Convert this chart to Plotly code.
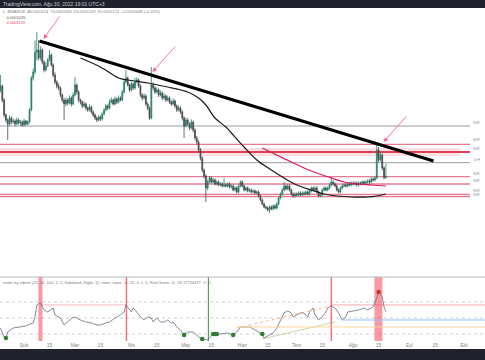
import pandas as pd
import plotly.graph_objects as go

START = pd.Timestamp("2022-01-19")
SCALE = 1e-7  # prices below are in units of 1e-7

open_e7 = [
    1552, 1572, 1502, 1427, 1402, 1382, 1412, 1392, 1397, 1382,
    1402, 1387, 1392, 1377, 1397, 1382, 1392, 1452, 1612, 1642,
    1742, 1752, 1712, 1752, 1692, 1652, 1672, 1702, 1727, 1677,
    1627, 1592, 1572, 1562, 1527, 1502, 1482, 1502, 1487, 1512,
    1482, 1527, 1577, 1542, 1502, 1492, 1472, 1482, 1462, 1452,
    1467, 1442, 1427, 1412, 1402, 1417, 1407, 1432, 1452, 1472,
    1462, 1492, 1502, 1482, 1507, 1492, 1512, 1502, 1542, 1592,
    1612, 1577, 1552, 1582, 1562, 1592, 1602, 1572, 1527, 1512,
    1522, 1482, 1462, 1412, 1577, 1562, 1542, 1552, 1527, 1537,
    1512, 1522, 1502, 1512, 1492, 1482, 1497, 1472, 1452, 1462,
    1442, 1412, 1372, 1402, 1382, 1362, 1392, 1352, 1312, 1292,
    1252, 1212, 1152, 1122, 1062, 1092, 1112, 1092, 1102, 1082,
    1092, 1077, 1082, 1072, 1077, 1072, 1082, 1067, 1072, 1052,
    1062, 1042, 1072, 1092, 1072, 1052, 1062, 1047, 1052, 1042,
    1047, 1037, 1042, 1022, 1002, 982, 967, 962, 952, 967,
    957, 972, 962, 982, 1012, 1032, 1052, 1072, 1057, 1072,
    1052, 1032, 1022, 1032, 1027, 1037, 1027, 1037, 1032, 1042,
    1032, 1047, 1062, 1052, 1062, 1042, 1022, 1027, 1052, 1062,
    1052, 1062, 1077, 1092, 1082, 1072, 1052, 1042, 1062, 1072,
    1077, 1072, 1082, 1077, 1087, 1082, 1087, 1077, 1087, 1082,
    1092, 1087, 1092, 1097, 1092, 1107, 1102, 1112, 1252, 1202,
    1227, 1162, 1114,
]
high_e7 = [
    1627, 1580, 1510, 1435, 1410, 1425, 1420, 1410, 1405, 1415,
    1410, 1402, 1400, 1407, 1402, 1400, 1462, 1622, 1660, 1800,
    1842, 1802, 1770, 1760, 1700, 1690, 1712, 1752, 1735, 1685,
    1640, 1600, 1585, 1570, 1535, 1510, 1515, 1510, 1525, 1520,
    1540, 1617, 1585, 1550, 1510, 1500, 1495, 1490, 1470, 1480,
    1475, 1450, 1435, 1420, 1427, 1425, 1440, 1462, 1482, 1480,
    1505, 1515, 1510, 1520, 1515, 1525, 1520, 1552, 1605, 1652,
    1620, 1585, 1595, 1590, 1612, 1615, 1610, 1580, 1535, 1535,
    1530, 1490, 1470, 1667, 1590, 1570, 1565, 1560, 1550, 1545,
    1535, 1530, 1525, 1520, 1500, 1510, 1505, 1480, 1475, 1470,
    1450, 1420, 1415, 1410, 1390, 1405, 1400, 1360, 1322, 1300,
    1262, 1220, 1160, 1130, 1105, 1122, 1120, 1112, 1110, 1100,
    1100, 1090, 1090, 1112, 1085, 1090, 1090, 1080, 1080, 1070,
    1070, 1080, 1100, 1100, 1080, 1070, 1070, 1060, 1060, 1055,
    1055, 1050, 1050, 1030, 1010, 990, 975, 970, 975, 975,
    980, 980, 990, 1020, 1040, 1062, 1092, 1080, 1080, 1080,
    1060, 1040, 1040, 1040, 1045, 1045, 1045, 1045, 1050, 1050,
    1055, 1070, 1070, 1070, 1070, 1050, 1035, 1060, 1070, 1070,
    1070, 1085, 1117, 1100, 1090, 1080, 1060, 1070, 1080, 1085,
    1085, 1090, 1090, 1095, 1095, 1095, 1095, 1095, 1095, 1100,
    1100, 1100, 1105, 1105, 1115, 1115, 1120, 1277, 1267, 1240,
    1235, 1170, 1184,
]
low_e7 = [
    1540, 1490, 1415, 1390, 1302, 1372, 1380, 1385, 1370, 1375,
    1380, 1372, 1367, 1370, 1374, 1375, 1385, 1445, 1600, 1630,
    1700, 1700, 1700, 1680, 1640, 1645, 1665, 1695, 1670, 1615,
    1582, 1560, 1550, 1515, 1490, 1402, 1470, 1475, 1480, 1470,
    1475, 1520, 1530, 1490, 1480, 1462, 1465, 1450, 1442, 1445,
    1435, 1417, 1402, 1392, 1395, 1397, 1400, 1425, 1445, 1452,
    1455, 1485, 1475, 1475, 1482, 1485, 1495, 1495, 1535, 1585,
    1570, 1542, 1545, 1552, 1555, 1585, 1562, 1517, 1500, 1505,
    1472, 1450, 1402, 1405, 1550, 1532, 1535, 1517, 1520, 1502,
    1505, 1492, 1495, 1482, 1472, 1475, 1462, 1442, 1445, 1432,
    1400, 1312, 1365, 1372, 1350, 1355, 1340, 1300, 1280, 1240,
    1200, 1140, 1110, 992, 1050, 1085, 1085, 1085, 1075, 1075,
    1070, 1070, 1065, 1065, 1065, 1065, 1060, 1060, 1045, 1045,
    1035, 1035, 1065, 1065, 1045, 1045, 1040, 1040, 1035, 1035,
    1030, 1030, 1015, 995, 975, 960, 955, 945, 937, 950,
    950, 955, 955, 975, 1005, 1025, 1045, 1050, 1050, 1045,
    1025, 1015, 1015, 1020, 1020, 1020, 1020, 1025, 1025, 1025,
    1025, 1040, 1045, 1045, 1035, 1015, 1015, 1020, 1045, 1045,
    1045, 1055, 1070, 1075, 1065, 1045, 1035, 1035, 1055, 1065,
    1065, 1065, 1070, 1070, 1075, 1075, 1070, 1070, 1075, 1075,
    1080, 1080, 1085, 1085, 1085, 1095, 1095, 1105, 1190, 1195,
    1150, 1105, 1109,
]
close_e7 = [
    1572, 1502, 1427, 1402, 1382, 1412, 1392, 1397, 1382, 1402,
    1387, 1392, 1377, 1397, 1382, 1392, 1452, 1612, 1642, 1742,
    1752, 1712, 1752, 1692, 1652, 1672, 1702, 1727, 1677, 1627,
    1592, 1572, 1562, 1527, 1502, 1482, 1502, 1487, 1512, 1482,
    1527, 1577, 1542, 1502, 1492, 1472, 1482, 1462, 1452, 1467,
    1442, 1427, 1412, 1402, 1417, 1407, 1432, 1452, 1472, 1462,
    1492, 1502, 1482, 1507, 1492, 1512, 1502, 1542, 1592, 1612,
    1577, 1552, 1582, 1562, 1592, 1602, 1572, 1527, 1512, 1522,
    1482, 1462, 1412, 1577, 1562, 1542, 1552, 1527, 1537, 1512,
    1522, 1502, 1512, 1492, 1482, 1497, 1472, 1452, 1462, 1442,
    1412, 1372, 1402, 1382, 1362, 1392, 1352, 1312, 1292, 1252,
    1212, 1152, 1122, 1062, 1092, 1112, 1092, 1102, 1082, 1092,
    1077, 1082, 1072, 1077, 1072, 1082, 1067, 1072, 1052, 1062,
    1042, 1072, 1092, 1072, 1052, 1062, 1047, 1052, 1042, 1047,
    1037, 1042, 1022, 1002, 982, 967, 962, 952, 967, 957,
    972, 962, 982, 1012, 1032, 1052, 1072, 1057, 1072, 1052,
    1032, 1022, 1032, 1027, 1037, 1027, 1037, 1032, 1042, 1032,
    1047, 1062, 1052, 1062, 1042, 1022, 1027, 1052, 1062, 1052,
    1062, 1077, 1092, 1082, 1072, 1052, 1042, 1062, 1072, 1077,
    1072, 1082, 1077, 1087, 1082, 1087, 1077, 1087, 1082, 1092,
    1087, 1092, 1097, 1092, 1107, 1102, 1112, 1252, 1202, 1227,
    1162, 1114, 1122,
]

# moving averages (day offset from START, price e7)
black_ma_day = [44, 55, 65, 70, 81, 92, 103, 109, 113, 118, 124, 127, 134, 141, 149, 156, 163, 171, 178, 185, 193, 202, 207, 212]
black_ma_e7 = [1712, 1667, 1612, 1602, 1587, 1567, 1542, 1512, 1477, 1412, 1367, 1337, 1267, 1202, 1152, 1112, 1077, 1052, 1032, 1022, 1017, 1017, 1022, 1032]
red_ma_day = [144, 152, 160, 167, 174, 182, 189, 196, 204, 212]
red_ma_e7 = [1262, 1227, 1192, 1162, 1137, 1112, 1092, 1082, 1077, 1072]

trend_day = [21.45, 238.2]
trend_e7 = [1797, 1197]

# horizontal support/resistance levels (e7)
gray_levels_e7 = [1372, 1188.5]
pink_levels_e7 = [1280.5, 1118.5, 1082, 1030.5, 1018.5]
key_level_e7 = 1242
key_band_e7 = [1222, 1262]
low_band_e7 = [1018.5, 1030.5]

# arrows (tip day, tip price e7)
arrow_day = [23.7, 83.6, 210.7]
arrow_e7 = [1807, 1642, 1292]

# oscillator
rsi_day = [0, 2, 3, 4, 7, 11, 14, 15, 18, 19,
           20, 22, 24, 26, 29, 30, 33, 35, 37, 38,
           40, 42, 44, 47, 50, 53, 55, 58, 60, 63,
           66, 68, 69, 72, 73, 75, 77, 79, 81, 83,
           84, 86, 88, 90, 92, 94, 95, 97, 99, 101,
           103, 106, 109, 111, 114, 117, 121, 125, 128, 130,
           132, 135, 137, 139, 142, 144, 145, 147, 150, 152,
           154, 156, 158, 160, 161, 163, 165, 167, 169, 170,
           172, 173, 175, 177, 179, 180, 182, 184, 186, 188,
           190, 191, 194, 197, 200, 202, 204, 205, 207, 208,
           210, 211, 212]
rsi_val = [37.5, 26.3, 25.0, 32.5, 37.5, 38.8, 40.0, 41.3, 43.8, 51.3,
           66.3, 68.8, 60.0, 57.5, 62.5, 53.8, 50.0, 41.3, 45.0, 47.5,
           51.3, 50.0, 47.5, 45.0, 43.8, 41.3, 41.3, 43.8, 45.0, 50.0,
           53.8, 57.5, 66.3, 57.5, 62.5, 57.5, 51.3, 47.5, 51.3, 50.0,
           45.0, 50.0, 45.0, 45.0, 47.5, 43.8, 45.0, 38.8, 35.0, 28.8,
           32.5, 32.5, 26.3, 23.8, 22.5, 30.0, 30.0, 31.3, 28.8, 32.5,
           38.8, 38.8, 38.8, 36.3, 32.5, 30.0, 25.0, 27.5, 31.3, 37.5,
           47.5, 56.3, 58.8, 56.3, 51.3, 53.8, 56.3, 56.3, 51.3, 57.5,
           62.5, 53.8, 47.5, 51.3, 57.5, 62.5, 65.0, 62.5, 56.3, 47.5,
           51.3, 57.5, 58.8, 60.0, 62.5, 60.0, 62.5, 63.8, 75.0, 82.5,
           76.3, 63.8, 58.2]
green_dot_day = [3, 101, 111, 117, 118, 119, 128, 144]
green_dot_val = [25.0, 28.8, 23.8, 30.0, 30.0, 30.0, 28.8, 30.0]
red_dot_day = [208]
red_dot_val = [82.5]
osc_levels = [70, 50, 30]
red_band_days = [(20.9, 23.1), (205.7, 210.1)]
red_vline_days = [69.3, 182.0]
green_vline_days = [114.4]

tick_dates = ["2022-02-01", "2022-02-15", "2022-03-01", "2022-03-15", "2022-04-01", "2022-04-15",
              "2022-05-01", "2022-05-15", "2022-06-01", "2022-06-15", "2022-07-01", "2022-07-15",
              "2022-08-01", "2022-08-15", "2022-09-01", "2022-09-15", "2022-10-01"]
tick_text = ["Şub", "15", "Mar", "15", "Nis", "15", "May", "15", "Haz", "15", "Tem", "15",
             "Ağu", "15", "Eyl", "15", "Eki"]

# ---------------------------------------------------------------
W, H = 485, 360


def day(d):
    return START + pd.to_timedelta(d, unit="D")


def days(lst):
    return [day(d) for d in lst]


def e7(lst):
    return [v * SCALE for v in lst]


def py(px):
    return 1 - px / H


def px_(px):
    return px / W


X_START = START - pd.Timedelta(hours=6)
X_END = X_START + pd.to_timedelta(W / 1.818, unit="D")

dates = pd.date_range(START, periods=len(close_e7), freq="D")
UP = "#25806a"
DOWN = "#48484c"

fig = go.Figure()
fig.add_trace(go.Candlestick(
    x=dates, open=e7(open_e7), high=e7(high_e7), low=e7(low_e7), close=e7(close_e7),
    increasing=dict(line=dict(color=UP, width=0.8), fillcolor=UP),
    decreasing=dict(line=dict(color=DOWN, width=0.8), fillcolor=DOWN),
    whiskerwidth=0, showlegend=False, hoverinfo="skip", xaxis="x", yaxis="y"))

fig.add_trace(go.Scatter(x=days(black_ma_day), y=e7(black_ma_e7), mode="lines",
                         line=dict(color="#1a1a1a", width=1.2, shape="spline"),
                         showlegend=False, hoverinfo="skip", yaxis="y"))
fig.add_trace(go.Scatter(x=days(red_ma_day), y=e7(red_ma_e7), mode="lines",
                         line=dict(color="#d81b60", width=1.2, shape="spline"),
                         showlegend=False, hoverinfo="skip", yaxis="y"))
fig.add_trace(go.Scatter(x=days(trend_day), y=e7(trend_e7), mode="lines",
                         line=dict(color="#000000", width=3),
                         showlegend=False, hoverinfo="skip", yaxis="y"))

# oscillator
fig.add_trace(go.Scatter(x=days(rsi_day), y=rsi_val, mode="lines",
                         line=dict(color="#6a6e80", width=0.8),
                         showlegend=False, hoverinfo="skip", yaxis="y2"))
fig.add_trace(go.Scatter(x=days([22, 69.3]), y=[66.3, 66.3], mode="lines",
                         line=dict(color="rgba(242,54,69,0.45)", width=0.8),
                         showlegend=False, hoverinfo="skip", yaxis="y2"))
fig.add_trace(go.Scatter(x=days([130, 182]), y=[37.5, 65.0], mode="lines",
                         line=dict(color="rgba(255,140,80,0.8)", width=0.8, dash="dot"),
                         showlegend=False, hoverinfo="skip", yaxis="y2"))
fig.add_trace(go.Scatter(x=days([144, 184]), y=[23.8, 45.0], mode="lines",
                         line=dict(color="rgba(150,190,90,0.7)", width=0.8),
                         showlegend=False, hoverinfo="skip", yaxis="y2"))
fig.add_trace(go.Scatter(x=[day(188), X_END], y=[47.5, 47.5], mode="lines",
                         line=dict(color="#90bff9", width=1),
                         showlegend=False, hoverinfo="skip", yaxis="y2"))
fig.add_trace(go.Scatter(x=[day(130), X_END], y=[38.8, 38.8], mode="lines",
                         line=dict(color="#ffd59a", width=1),
                         showlegend=False, hoverinfo="skip", yaxis="y2"))
fig.add_trace(go.Scatter(x=[day(182), X_END], y=[66.3, 66.3], mode="lines",
                         line=dict(color="rgba(242,54,69,0.55)", width=0.8),
                         showlegend=False, hoverinfo="skip", yaxis="y2"))
fig.add_trace(go.Scatter(x=days(green_dot_day), y=green_dot_val, mode="markers",
                         marker=dict(color="#2e7d32", size=4.5),
                         showlegend=False, hoverinfo="skip", yaxis="y2"))
fig.add_trace(go.Scatter(x=days(red_dot_day), y=red_dot_val, mode="markers",
                         marker=dict(color="#d32f2f", size=4.5),
                         showlegend=False, hoverinfo="skip", yaxis="y2"))

shapes = []
RIGHT = px_(470)
for lv in gray_levels_e7:
    shapes.append(dict(type="line", xref="paper", yref="y", x0=0, x1=RIGHT, y0=lv * SCALE, y1=lv * SCALE,
                       line=dict(color="#9a9ca5", width=1), layer="below"))
shapes.append(dict(type="rect", xref="paper", yref="y", x0=0, x1=px_(460),
                   y0=key_band_e7[0] * SCALE, y1=key_band_e7[1] * SCALE,
                   fillcolor="rgba(242,54,69,0.16)", line=dict(width=0), layer="below"))
shapes.append(dict(type="rect", xref="paper", yref="y", x0=0, x1=RIGHT,
                   y0=low_band_e7[0] * SCALE, y1=low_band_e7[1] * SCALE,
                   fillcolor="rgba(242,54,69,0.12)", line=dict(width=0), layer="below"))
for lv in pink_levels_e7:
    shapes.append(dict(type="line", xref="paper", yref="y", x0=0, x1=RIGHT, y0=lv * SCALE, y1=lv * SCALE,
                       line=dict(color="#e57a93", width=1.3), layer="below"))
shapes.append(dict(type="line", xref="paper", yref="y", x0=0, x1=RIGHT,
                   y0=key_level_e7 * SCALE, y1=key_level_e7 * SCALE,
                   line=dict(color="#e0405a", width=2), layer="below"))

for lv in osc_levels:
    shapes.append(dict(type="line", xref="paper", yref="y2", x0=0, x1=1, y0=lv, y1=lv,
                       line=dict(color="#c3c5cc", width=0.8, dash="dot"), layer="below"))
for a, b in red_band_days:
    shapes.append(dict(type="rect", xref="x", yref="paper", x0=day(a), x1=day(b), y0=py(341), y1=py(277),
                       fillcolor="rgba(242,54,69,0.5)", line=dict(width=0), layer="below"))
for d in red_vline_days:
    shapes.append(dict(type="line", xref="x", yref="paper", x0=day(d), x1=day(d), y0=py(341), y1=py(277),
                       line=dict(color="rgba(242,54,69,0.7)", width=1.5), layer="below"))
for d in green_vline_days:
    shapes.append(dict(type="line", xref="x", yref="paper", x0=day(d), x1=day(d), y0=py(341), y1=py(277),
                       line=dict(color="rgba(56,142,60,0.85)", width=1.2), layer="below"))
shapes.append(dict(type="line", xref="paper", yref="paper", x0=0, x1=1, y0=py(277), y1=py(277),
                   line=dict(color="#b8bac2", width=1)))
shapes.append(dict(type="rect", xref="paper", yref="paper", x0=0, x1=1, y0=py(8), y1=1,
                   fillcolor="#1f222b", line=dict(width=0), layer="above"))
shapes.append(dict(type="rect", xref="paper", yref="paper", x0=0, x1=1, y0=0, y1=py(349),
                   fillcolor="#1f222b", line=dict(width=0), layer="above"))

annotations = []
FONT = "Liberation Sans"
annotations.append(dict(xref="paper", yref="paper", x=px_(1), y=py(4), xanchor="left", yanchor="middle",
                        text="TradingView.com, Ağu 30, 2022 19:01 UTC+3", showarrow=False,
                        font=dict(family=FONT, size=5, color="#c9cbd2")))
annotations.append(dict(xref="paper", yref="paper", x=px_(1), y=py(12), xanchor="left", yanchor="middle",
                        text="L, BINANCE  A0.0001114  Y0.0001184  D0.0001109  K0.0001122  +0.0000008 (+0.41%)",
                        showarrow=False, font=dict(family=FONT, size=4, color="#7a7d88")))
annotations.append(dict(xref="paper", yref="paper", x=px_(1), y=py(17), xanchor="left", yanchor="middle",
                        text="·  0.0001035", showarrow=False, font=dict(family=FONT, size=4, color="#555")))
annotations.append(dict(xref="paper", yref="paper", x=px_(1), y=py(22), xanchor="left", yanchor="middle",
                        text="·  0.0001159", showarrow=False, font=dict(family=FONT, size=4, color="#e04060")))
annotations.append(dict(xref="paper", yref="paper", x=px_(1), y=py(282), xanchor="left", yanchor="middle",
                        text="ender by zdmre (25, 40, 100, 1, 1, Sideband, Right, 11, none, none, 11, 11, 0, 1, 0, Red Green, 0)  58.17734377  ∅  0",
                        showarrow=False, font=dict(family=FONT, size=4, color="#7a7d88")))
for lbl_y, txt in [(122, "S/R"), (140, "S/R"), (148, "S/R"), (159, "4 H"), (173, "S/R"),
                   (180, "S/R"), (190, "S/R"), (194, "S/R")]:
    annotations.append(dict(xref="paper", yref="paper", x=px_(482), y=py(lbl_y), xanchor="right",
                            yanchor="middle", text=txt, showarrow=False,
                            font=dict(family=FONT, size=4, color="#8a8d96")))
arrow_off = [(17, -24), (24, -27), (24, -27)]
for d, p, (ax, ay) in zip(arrow_day, arrow_e7, arrow_off):
    annotations.append(dict(x=day(d), y=p * SCALE, xref="x", yref="y", text="", showarrow=True,
                            ax=ax, ay=ay, arrowhead=2, arrowsize=1, arrowwidth=0.9,
                            arrowcolor="#f06a8a", standoff=0))

fig.update_layout(
    width=W, height=H, margin=dict(l=0, r=0, t=0, b=0, pad=0),
    paper_bgcolor="white", plot_bgcolor="white", showlegend=False,
    xaxis=dict(type="date", range=[X_START, X_END], anchor="y2", domain=[0, 1],
               showgrid=False, zeroline=False, showline=False, ticks="", automargin=False,
               tickvals=tick_dates, ticktext=tick_text,
               tickfont=dict(family=FONT, size=5, color="#80838d"),
               rangeslider=dict(visible=False)),
    yaxis=dict(domain=[py(276), py(8)], range=[622 * SCALE, 1962 * SCALE], automargin=False,
               showticklabels=False, showgrid=False, zeroline=False),
    yaxis2=dict(domain=[py(341), py(277)], range=[21.25, 101.25], automargin=False,
                showticklabels=False, showgrid=False, zeroline=False),
    shapes=shapes, annotations=annotations,
)

fig.write_html("out.html", config={"displayModeBar": False, "staticPlot": True},
               post_script="document.body.style.margin='0';document.body.style.overflow='hidden';")
